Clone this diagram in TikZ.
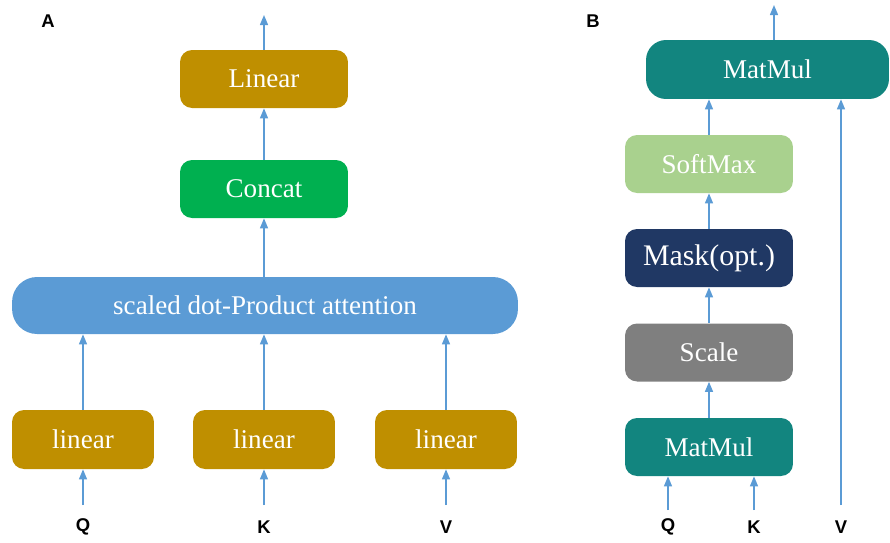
\documentclass[tikz,border=0pt]{standalone}
\usepackage{fontspec}
\setmainfont{Liberation Serif}
\setsansfont{Liberation Sans}
\usetikzlibrary{arrows.meta, positioning}
\definecolor{gold}{HTML}{BF8F00}
\definecolor{catgreen}{HTML}{00B050}
\definecolor{attblue}{HTML}{5B9BD5}
\definecolor{teal}{HTML}{12857F}
\definecolor{softgreen}{HTML}{A9D18E}
\definecolor{navy}{HTML}{203864}
\definecolor{scalegray}{HTML}{7F7F7F}
\definecolor{arrowblue}{HTML}{5B9BD5}
\tikzset{
    block/.style={rectangle, rounded corners=0.24cm, minimum width=3.36cm, minimum height=1.16cm, inner sep=0pt, align=center, text=white, font=\fontsize{15.4}{18}\selectfont},
    wideblock/.style={block, rounded corners=0.5cm, minimum width=10.12cm, minimum height=1.14cm},
    smallblock/.style={block, minimum width=2.84cm, minimum height=1.18cm},
    panel/.style={font=\sffamily\bfseries\fontsize{10.5}{12}\selectfont},
    arrow/.style={-{Triangle[length=2mm, width=1.6mm]}, line width=0.8pt, draw=arrowblue},
}
\begin{document}
\begin{tikzpicture}[x=0.02cm, y=-0.02cm]
    \useasboundingbox (0,0) rectangle (890,542);
    % panel A
    \node[panel] (labA) at (48,21) {A};
    \node[block, fill=gold] (lin) at (264,79) {Linear};
    \node[block, fill=catgreen] (cat) at (264,189) {Concat};
    \node[wideblock, fill=attblue] (att) at (265,305.5) {scaled dot-Product attention};
    \node[smallblock, fill=gold] (linq) at (83,439.5) {linear};
    \node[smallblock, fill=gold] (link) at (264,439.5) {linear};
    \node[smallblock, fill=gold] (linv) at (446,439.5) {linear};
    \node[panel] (qa) at (83,527) {Q};
    \node[panel] (ka) at (264,527) {K};
    \node[panel] (va) at (446,527) {V};
    \coordinate (outa) at (264,15);
    \coordinate (qain) at (83,505);
    \coordinate (kain) at (264,505);
    \coordinate (vain) at (446,505);
    \draw[arrow] (qain) -- (linq);
    \draw[arrow] (kain) -- (link);
    \draw[arrow] (vain) -- (linv);
    \draw[arrow] (linq) -- (linq |- att.south);
    \draw[arrow] (link) -- (link |- att.south);
    \draw[arrow] (linv) -- (linv |- att.south);
    \draw[arrow] (att.north -| cat) -- (cat);
    \draw[arrow] (cat) -- (lin);
    \draw[arrow] (lin) -- (outa);
    % panel B
    \node[panel] (labB) at (593,21) {B};
    \node[block, fill=teal, rounded corners=0.4cm, minimum width=4.86cm, minimum height=1.18cm] (mmtop) at (767.5,69.5) {MatMul};
    \node[block, fill=softgreen] (soft) at (709,164) {SoftMax};
    \node[block, fill=navy, font=\fontsize{17}{20}\selectfont] (mask) at (709,258) {Mask(opt.)};
    \node[block, fill=scalegray] (scale) at (709,352.5) {Scale};
    \node[block, fill=teal] (mmbot) at (709,447) {MatMul};
    \node[panel] (qb) at (668,527) {Q};
    \node[panel] (kb) at (754,527) {K};
    \node[panel] (vb) at (841,527) {V};
    \coordinate (outb) at (774,5);
    \coordinate (qbin) at (668,510);
    \coordinate (kbin) at (754,510);
    \coordinate (vbin) at (841,505);
    \draw[arrow] (qbin) -- (qbin |- mmbot.south);
    \draw[arrow] (kbin) -- (kbin |- mmbot.south);
    \draw[arrow] (vbin) -- (vbin |- mmtop.south);
    \draw[arrow] (mmbot) -- (scale);
    \draw[arrow] (scale) -- (mask);
    \draw[arrow] (mask) -- (soft);
    \draw[arrow] (soft) -- (soft |- mmtop.south);
    \draw[arrow] (outb |- mmtop.north) -- (outb);
\end{tikzpicture}
\end{document}
